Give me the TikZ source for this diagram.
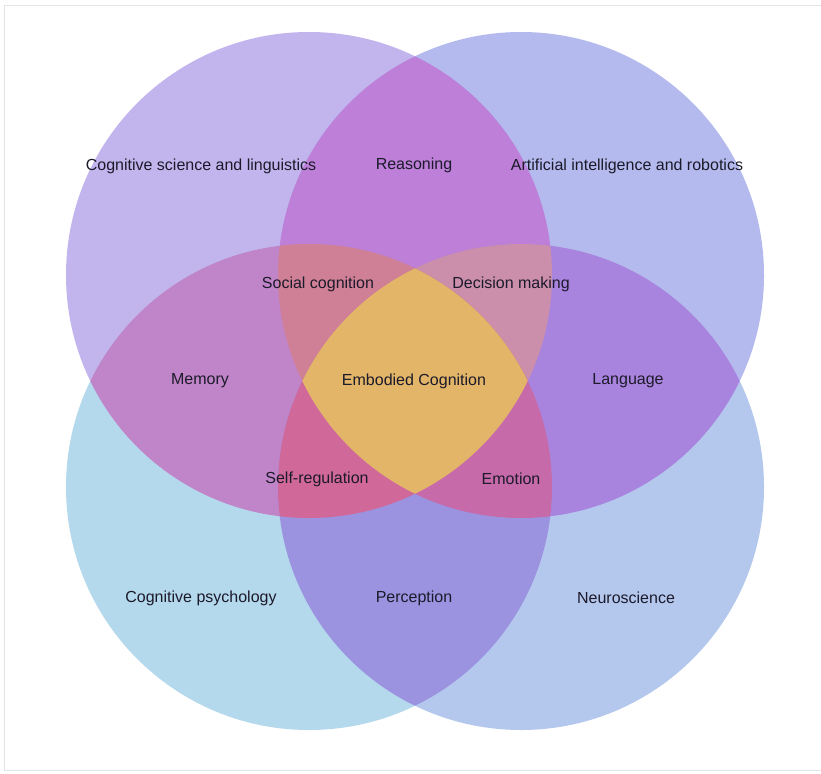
\documentclass[tikz,border=0pt]{standalone}
\usepackage{fontspec}
\setmainfont{Liberation Sans}

% single-set fills
\definecolor{cTL}{HTML}{C2B5EE}
\definecolor{cTR}{HTML}{B4BAEE}
\definecolor{cBL}{HTML}{B4D8EC}
\definecolor{cBR}{HTML}{B4C8EE}
% pairwise overlaps
\definecolor{cTLTR}{HTML}{BD7FD8}
\definecolor{cTLBL}{HTML}{C084C8}
\definecolor{cTRBR}{HTML}{A984DE}
\definecolor{cBLBR}{HTML}{9B93E0}
% triple overlaps
\definecolor{cSocial}{HTML}{D08096}
\definecolor{cDecision}{HTML}{CB8FAC}
\definecolor{cSelfreg}{HTML}{D0689A}
\definecolor{cEmotion}{HTML}{C76AAA}
% centre
\definecolor{cCore}{HTML}{E2B568}
\definecolor{labeltext}{HTML}{1C1A2A}
\definecolor{framegray}{HTML}{E4E4E4}

\tikzset{
  lbl/.style={text=labeltext, inner sep=0pt, font=\fontsize{16}{19}\selectfont},
}

\newcommand{\circR}{243pt}

\begin{document}
\begin{tikzpicture}[x=1pt,y=-1pt]
\useasboundingbox (0,0) rectangle (821,773);
\fill[white] (0,0) rectangle (821,773);
\draw[framegray, line width=1pt] (4,770) -- (4,6) -- (821,6);
\draw[framegray, line width=1pt] (4,770) -- (821,770);

% circle centres
\coordinate (TL) at (309,275);
\coordinate (TR) at (521,275);
\coordinate (BL) at (309,487);
\coordinate (BR) at (521,487);

% single sets
\fill[cTL] (TL) circle[radius=\circR];
\fill[cTR] (TR) circle[radius=\circR];
\fill[cBL] (BL) circle[radius=\circR];
\fill[cBR] (BR) circle[radius=\circR];

% pairwise lenses
\begin{scope}
  \clip (TL) circle[radius=\circR];
  \fill[cTLTR] (TR) circle[radius=\circR];
  \fill[cTLBL] (BL) circle[radius=\circR];
\end{scope}
\begin{scope}
  \clip (BR) circle[radius=\circR];
  \fill[cTRBR] (TR) circle[radius=\circR];
  \fill[cBLBR] (BL) circle[radius=\circR];
\end{scope}

% triple overlaps
\begin{scope}
  \clip (TL) circle[radius=\circR];
  \clip (TR) circle[radius=\circR];
  \fill[cSocial] (BL) circle[radius=\circR];
  \fill[cDecision] (BR) circle[radius=\circR];
\end{scope}
\begin{scope}
  \clip (BL) circle[radius=\circR];
  \clip (BR) circle[radius=\circR];
  \fill[cSelfreg] (TL) circle[radius=\circR];
  \fill[cEmotion] (TR) circle[radius=\circR];
\end{scope}

% all four sets
\begin{scope}
  \clip (TL) circle[radius=\circR];
  \clip (TR) circle[radius=\circR];
  \clip (BL) circle[radius=\circR];
  \fill[cCore] (BR) circle[radius=\circR];
\end{scope}

% labels
\node[lbl] (cogsci)   at (201,166) {Cognitive science and linguistics};
\node[lbl] (reason)   at (414,165) {Reasoning};
\node[lbl] (airobot)  at (627,166) {Artificial intelligence and robotics};
\node[lbl] (social)   at (318,284) {Social cognition};
\node[lbl] (decision) at (511,284) {Decision making};
\node[lbl] (memory)   at (200,381) {Memory};
\node[lbl] (embodied) at (414,381) {Embodied Cognition};
\node[lbl] (language) at (628,381) {Language};
\node[lbl] (selfreg)  at (317,479) {Self-regulation};
\node[lbl] (emotion)  at (511,479) {Emotion};
\node[lbl] (cogpsy)   at (201,598) {Cognitive psychology};
\node[lbl] (percept)  at (414,598) {Perception};
\node[lbl] (neuro)    at (626,598) {Neuroscience};
\end{tikzpicture}
\end{document}
